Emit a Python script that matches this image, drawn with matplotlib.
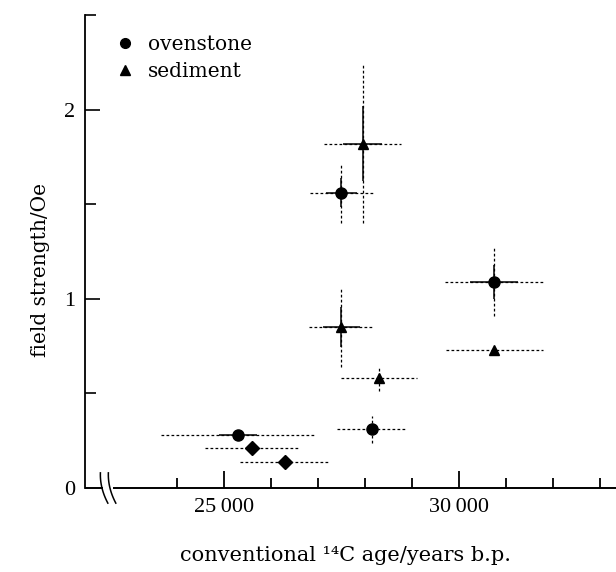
import numpy as np
import matplotlib
matplotlib.use("Agg")
import matplotlib.pyplot as plt
from matplotlib.lines import Line2D
from matplotlib.ticker import FixedLocator, FuncFormatter

# ---- data ----
oven_age = [25300, 27500, 28150, 30750]
oven_field = [0.28, 1.56, 0.31, 1.09]
oven_age_err_outer = [1650, 660, 740, 1040]
oven_age_err_inner = [400, 330, 0, 510]
oven_field_err_outer = [0.0, 0.16, 0.07, 0.18]
oven_field_err_inner = [0.0, 0.076, 0.0, 0.09]

sed_age = [27950, 27500, 28300, 30750]
sed_field = [1.82, 0.85, 0.58, 0.73]
sed_age_err_outer = [820, 690, 800, 1030]
sed_age_err_inner = [420, 400, 0, 0]
sed_field_err_outer = [0.42, 0.21, 0.065, 0.0]
sed_field_err_inner = [0.20, 0.105, 0.0, 0.0]

dia_age = [25600, 26300]
dia_field = [0.21, 0.14]
dia_age_err = [1000, 950]

x_major = [25000, 30000]
x_minor = [24000, 26000, 27000, 28000, 29000, 31000, 32000, 33000]
x_labels = ["25\u2009000", "30\u2009000"]
y_major = [0, 1, 2]
y_minor = [0.5, 1.5, 2.5]

FONT = "DejaVu Serif"
NUMFONT = "Liberation Serif"
plt.rcParams["font.family"] = [FONT, "DejaVu Sans"]
FS = 14.5

fig = plt.figure(figsize=(6.16, 5.72), dpi=100)
ax = fig.add_axes([85 / 616, (572 - 488) / 572, 531 / 616, 473 / 572])
ax.set_xlim(22043, 33340)
ax.set_ylim(0, 2.5)

DOT = (0, (2.2, 1.8))


def bars(x, y, xe_o, xe_i, ye_o, ye_i):
    e1 = ax.errorbar(x, y, xerr=xe_o, yerr=ye_o, fmt="none", ecolor="black",
                     elinewidth=0.9, capsize=0, zorder=2)
    for lc in e1[2]:
        lc.set_linestyle(DOT)
    ax.errorbar(x, y, xerr=xe_i, yerr=ye_i, fmt="none", ecolor="black",
                elinewidth=1.1, capsize=0, zorder=3)


bars(oven_age, oven_field, oven_age_err_outer, oven_age_err_inner,
     oven_field_err_outer, oven_field_err_inner)
bars(sed_age, sed_field, sed_age_err_outer, sed_age_err_inner,
     sed_field_err_outer, sed_field_err_inner)
bars(dia_age, dia_field, dia_age_err, [0] * len(dia_age),
     [0] * len(dia_age), [0] * len(dia_age))

ax.plot(oven_age, oven_field, "o", color="black", ms=8, zorder=4)
ax.plot(sed_age, sed_field, "^", color="black", ms=7.5, zorder=4)
ax.plot(dia_age, dia_field, "D", color="black", ms=6.8, zorder=4)

# axes styling
for s in ["top", "right", "bottom"]:
    ax.spines[s].set_visible(False)
ax.spines["left"].set_linewidth(1.3)

ax.xaxis.set_major_locator(FixedLocator(x_major))
ax.xaxis.set_minor_locator(FixedLocator(x_minor))
ax.xaxis.set_major_formatter(FuncFormatter(
    lambda v, p: x_labels[x_major.index(int(round(v)))] if int(round(v)) in x_major else ""))
ax.yaxis.set_major_locator(FixedLocator(y_major))
ax.yaxis.set_minor_locator(FixedLocator(y_minor))
ax.yaxis.set_major_formatter(FuncFormatter(lambda v, p: "%d" % v))

ax.tick_params(axis="x", which="major", direction="in", length=12, width=1.3,
               labelsize=16, pad=7)
ax.tick_params(axis="x", which="minor", direction="in", length=7, width=1.3)
ax.tick_params(axis="y", which="major", direction="in", length=11, width=1.2,
               labelsize=16, pad=7)
ax.tick_params(axis="y", which="minor", direction="in", length=8, width=1.2)
ax.yaxis.get_major_ticks()[0].tick1line.set_visible(False)
for lab in ax.get_xticklabels() + ax.get_yticklabels():
    lab.set_family([NUMFONT, "DejaVu Serif"])

# bottom axis with break
ax.plot([0, 0.034], [0, 0], transform=ax.transAxes, color="black", lw=1.4,
        clip_on=False, solid_capstyle="butt")
ax.plot([0.053, 1.0], [0, 0], transform=ax.transAxes, color="black", lw=1.4,
        clip_on=False, solid_capstyle="butt")
t = np.linspace(-1, 1, 30)
for x0 in [0.036, 0.051]:
    xs = x0 + 0.007 * t - 0.004 * (1 - t ** 2)
    ys = -0.032 * t
    ax.plot(xs, ys, transform=ax.transAxes, color="black", lw=1.1, clip_on=False)

ax.set_xlabel("conventional \u00b9\u2074C age/years b.p.", fontsize=15)
ax.xaxis.set_label_coords(0.49, -0.122)
ax.set_ylabel("field strength/Oe", fontsize=FS)
ax.yaxis.set_label_coords(-0.066, 0.46)

handles = [Line2D([], [], marker="o", ls="none", color="black", ms=7),
           Line2D([], [], marker="^", ls="none", color="black", ms=6.5)]
ax.legend(handles, ["ovenstone", "sediment"], loc="upper left",
          bbox_to_anchor=(0.033, 0.988), frameon=False, fontsize=FS,
          handlelength=0.8, handletextpad=0.75, labelspacing=0.42,
          borderpad=0.2)

fig.savefig("out.png", dpi=100)
